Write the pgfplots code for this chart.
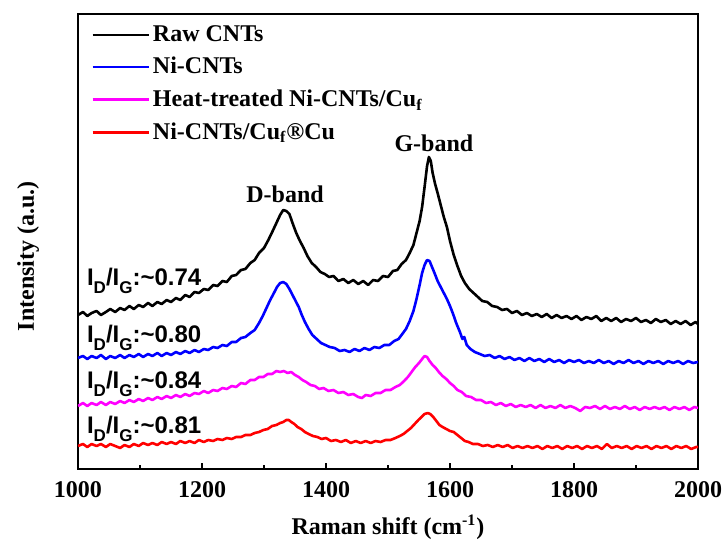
\documentclass[border=0pt]{standalone}
\usepackage{pgfplots}
\pgfplotsset{compat=1.18}
\usepackage{fontspec}
\setmainfont{Liberation Serif}
\newfontfamily\arialfont{Liberation Sans}
\newcommand\lsub[1]{\raisebox{-4pt}{\fontsize{8.5}{10}\selectfont #1}}
\begin{document}
\begin{tikzpicture}
\path[use as bounding box] (-39pt,-36.5pt) rectangle (322.5pt,234.5pt);
\begin{axis}[
  at={(0,0)}, anchor=south west,
  scale only axis, width=310pt, height=227.5pt,
  xmin=1000, xmax=2000, ymin=0, ymax=455,
  xtick={1000,1200,...,2000}, minor x tick num=1,
  xtick pos=left, ytick=\empty,
  tick align=inside,
  major tick length=3pt, minor tick length=2pt,
  every tick/.style={line width=0.8pt, black},
  axis line style={line width=0.9pt},
  /pgf/number format/1000 sep={},
  /pgf/number format/assume math mode=true,
  xticklabel style={font=\bfseries\fontsize{12}{14}\selectfont, yshift=-2.5pt},
  xlabel={Raman shift (cm\textsuperscript{-1})},
  xlabel style={font=\bfseries\fontsize{12}{14}\selectfont, at={(axis description cs:0.5,0)}, yshift=-29pt, anchor=center},
  ylabel={Intensity (a.u.)},
  ylabel style={font=\bfseries\fontsize{12}{14}\selectfont, at={(axis description cs:-0.0806,0.468)}, anchor=center},
  legend style={at={(axis description cs:0,1)}, anchor=north west, xshift=6.5pt, yshift=-4pt,
    draw=none, fill=none, font=\bfseries\fontsize{12}{14}\selectfont, row sep=3.5pt, inner sep=0pt,
    nodes={inner sep=1.5pt}},
  legend cell align=left,
  legend image code/.code={\draw[#1] (0pt,0pt) -- (28pt,0pt);},
  every axis plot/.append style={line width=1.3pt, line join=round},
]
\addplot[black] coordinates {
(1000,154)(1008,157)(1015,153)(1022,156)(1030,158)(1037,154)(1045,157)(1052,160)(1060,157)(1068,161)(1075,159)(1083,163)(1090,160)(1098,164)(1105,162)(1113,166)(1120,163)(1128,167)(1135,165)(1143,169)(1150,167)(1158,171)(1165,169)(1173,174)(1180,172)(1188,177)(1195,176)(1203,180)(1210,179)(1218,184)(1225,183)(1233,188)(1240,187)(1248,193)(1255,194)(1263,199)(1270,200)(1278,206)(1285,209)(1292,216)(1300,221)(1307,229)(1314,238)(1320,246)(1326,254)(1331,259)(1336,258)(1341,255)(1346,246)(1352,236)(1358,228)(1364,221)(1370,213)(1377,206)(1384,202)(1391,197)(1398,195)(1405,192)(1412,193)(1420,188)(1428,190)(1436,186)(1444,189)(1452,185)(1460,188)(1468,184)(1476,189)(1484,188)(1492,193)(1500,192)(1508,198)(1515,199)(1522,205)(1529,209)(1535,216)(1541,224)(1546,236)(1551,248)(1555,262)(1559,282)(1563,303)(1566,312)(1569,308)(1572,296)(1576,285)(1580,276)(1585,264)(1590,252)(1595,242)(1600,228)(1606,214)(1612,203)(1618,193)(1624,186)(1631,180)(1638,176)(1645,172)(1652,168)(1660,167)(1668,163)(1676,162)(1684,159)(1692,160)(1700,156)(1708,158)(1716,154)(1724,156)(1732,153)(1740,155)(1748,152)(1756,155)(1764,151)(1772,154)(1780,151)(1788,153)(1796,150)(1804,153)(1812,149)(1820,152)(1828,150)(1836,153)(1844,148)(1852,151)(1860,148)(1868,151)(1876,147)(1884,150)(1892,148)(1900,151)(1908,147)(1916,149)(1924,146)(1932,150)(1940,147)(1948,149)(1956,145)(1964,148)(1972,145)(1980,148)(1988,144)(1996,147)(2000,145)
};
\addlegendentry{Raw CNTs}
\addplot[color={rgb,255:red,0;green,0;blue,255}] coordinates {
(1000,111)(1008,113)(1015,110)(1022,113)(1030,111)(1037,114)(1045,110)(1052,113)(1060,111)(1068,114)(1075,111)(1083,114)(1090,112)(1098,115)(1105,112)(1113,115)(1120,113)(1128,116)(1135,113)(1143,116)(1150,114)(1158,117)(1165,115)(1173,118)(1180,116)(1188,119)(1195,117)(1203,120)(1210,119)(1218,122)(1225,121)(1233,124)(1240,123)(1248,127)(1255,127)(1263,131)(1270,132)(1278,136)(1285,139)(1292,146)(1298,153)(1304,161)(1310,169)(1316,176)(1321,182)(1326,186)(1331,187)(1336,185)(1341,180)(1346,174)(1351,168)(1356,162)(1361,154)(1366,147)(1372,140)(1378,134)(1385,130)(1392,126)(1399,124)(1406,122)(1414,121)(1422,118)(1430,119)(1438,117)(1446,120)(1454,118)(1462,121)(1470,119)(1478,122)(1486,121)(1494,124)(1502,124)(1510,128)(1517,130)(1523,135)(1529,140)(1535,148)(1541,158)(1546,170)(1551,184)(1555,196)(1559,204)(1563,209)(1567,208)(1571,202)(1575,196)(1580,188)(1585,182)(1590,176)(1595,170)(1600,163)(1605,155)(1610,146)(1616,137)(1620,130)(1623,132)(1627,124)(1633,120)(1640,117)(1648,115)(1656,113)(1664,114)(1672,111)(1680,113)(1688,110)(1696,112)(1704,109)(1712,111)(1720,108)(1728,111)(1736,108)(1744,110)(1752,107)(1760,110)(1768,107)(1776,109)(1784,106)(1792,109)(1800,107)(1808,109)(1816,106)(1824,108)(1832,106)(1840,109)(1848,106)(1856,108)(1864,105)(1872,108)(1880,106)(1888,109)(1896,106)(1904,108)(1912,105)(1920,108)(1928,106)(1936,108)(1944,105)(1952,108)(1960,106)(1968,108)(1976,105)(1984,108)(1992,106)(2000,107)
};
\addlegendentry{Ni-CNTs}
\addplot[color={rgb,255:red,255;green,0;blue,255}] coordinates {
(1000,63)(1008,66)(1015,63)(1022,66)(1030,64)(1037,67)(1045,64)(1052,67)(1060,65)(1068,68)(1075,66)(1083,69)(1090,67)(1098,70)(1105,68)(1113,71)(1120,69)(1128,72)(1135,70)(1143,73)(1150,71)(1158,74)(1165,72)(1173,75)(1180,73)(1188,76)(1195,75)(1203,78)(1210,76)(1218,79)(1225,78)(1233,81)(1240,80)(1248,83)(1255,82)(1263,86)(1270,85)(1278,89)(1285,89)(1292,92)(1299,92)(1306,95)(1313,95)(1320,98)(1326,97)(1332,98)(1338,96)(1344,97)(1350,94)(1356,92)(1362,89)(1368,87)(1375,84)(1382,83)(1389,80)(1396,81)(1404,78)(1412,79)(1420,76)(1428,77)(1436,74)(1444,75)(1452,72)(1458,71)(1464,74)(1472,73)(1480,76)(1488,76)(1496,79)(1504,79)(1512,82)(1519,84)(1526,88)(1532,92)(1538,97)(1544,102)(1550,106)(1555,110)(1559,113)(1563,112)(1567,108)(1572,104)(1577,101)(1582,97)(1588,93)(1594,90)(1600,86)(1606,83)(1612,79)(1619,77)(1626,73)(1634,72)(1642,69)(1650,69)(1658,66)(1666,67)(1674,64)(1682,66)(1690,63)(1698,65)(1706,62)(1714,64)(1722,62)(1730,64)(1738,61)(1746,64)(1754,61)(1762,63)(1770,61)(1778,64)(1786,61)(1794,63)(1802,61)(1810,58)(1818,62)(1826,61)(1834,63)(1842,60)(1850,63)(1858,60)(1866,62)(1874,60)(1882,63)(1890,60)(1898,62)(1906,59)(1914,62)(1922,60)(1930,62)(1938,60)(1946,62)(1954,59)(1962,62)(1970,60)(1978,62)(1986,59)(1994,62)(2000,61)
};
\addlegendentry{Heat-treated Ni-CNTs/Cu\textsubscript{f}}
\addplot[color={rgb,255:red,255;green,0;blue,0}] coordinates {
(1000,23)(1008,25)(1015,22)(1022,25)(1030,23)(1037,25)(1045,22)(1052,25)(1060,23)(1068,21)(1075,24)(1083,22)(1090,25)(1098,23)(1105,26)(1113,24)(1120,26)(1128,24)(1135,27)(1143,25)(1150,27)(1158,25)(1165,28)(1173,26)(1180,28)(1188,26)(1195,29)(1203,27)(1210,29)(1218,28)(1225,30)(1233,29)(1240,31)(1248,30)(1255,32)(1263,32)(1270,34)(1278,34)(1285,36)(1292,37)(1299,39)(1306,40)(1313,43)(1320,44)(1326,46)(1331,47)(1336,49)(1340,49)(1344,47)(1349,45)(1354,42)(1360,40)(1366,37)(1372,35)(1379,33)(1386,32)(1393,30)(1400,31)(1408,28)(1416,29)(1424,27)(1432,29)(1440,26)(1448,28)(1456,26)(1464,28)(1472,26)(1480,28)(1488,27)(1496,29)(1504,29)(1512,31)(1519,33)(1525,35)(1531,38)(1537,41)(1543,45)(1549,49)(1554,52)(1559,55)(1564,56)(1568,55)(1573,52)(1578,48)(1583,44)(1588,42)(1594,40)(1600,38)(1606,37)(1612,34)(1618,31)(1624,28)(1630,27)(1637,25)(1645,25)(1653,23)(1661,24)(1669,22)(1677,24)(1685,22)(1693,24)(1701,21)(1709,23)(1717,21)(1725,23)(1733,21)(1741,23)(1749,20)(1757,23)(1765,21)(1773,23)(1781,20)(1789,23)(1797,21)(1805,23)(1813,20)(1821,23)(1829,21)(1837,23)(1845,20)(1853,25)(1861,21)(1869,23)(1877,21)(1885,23)(1893,20)(1901,23)(1909,21)(1917,23)(1925,20)(1933,23)(1941,21)(1949,23)(1957,20)(1965,23)(1973,21)(1981,23)(1989,20)(1997,22)(2000,22)
};
\addlegendentry{Ni-CNTs/Cu\textsubscript{f}®Cu}
\node[anchor=base, font=\bfseries\fontsize{12}{14}\selectfont, inner sep=0pt] at (axis cs:1334,267) {D-band};
\node[anchor=base, font=\bfseries\fontsize{12}{14}\selectfont, inner sep=0pt] at (axis cs:1574,317) {G-band};
\node[anchor=base west, font=\arialfont\bfseries\fontsize{12}{14}\selectfont, inner sep=0pt] at (axis cs:1014,184) {I\lsub{D}/I\lsub{G}:\textasciitilde0.74};
\node[anchor=base west, font=\arialfont\bfseries\fontsize{12}{14}\selectfont, inner sep=0pt] at (axis cs:1014,127) {I\lsub{D}/I\lsub{G}:\textasciitilde0.80};
\node[anchor=base west, font=\arialfont\bfseries\fontsize{12}{14}\selectfont, inner sep=0pt] at (axis cs:1014,81) {I\lsub{D}/I\lsub{G}:\textasciitilde0.84};
\node[anchor=base west, font=\arialfont\bfseries\fontsize{12}{14}\selectfont, inner sep=0pt] at (axis cs:1014,36) {I\lsub{D}/I\lsub{G}:\textasciitilde0.81};
\end{axis}
\end{tikzpicture}
\end{document}
